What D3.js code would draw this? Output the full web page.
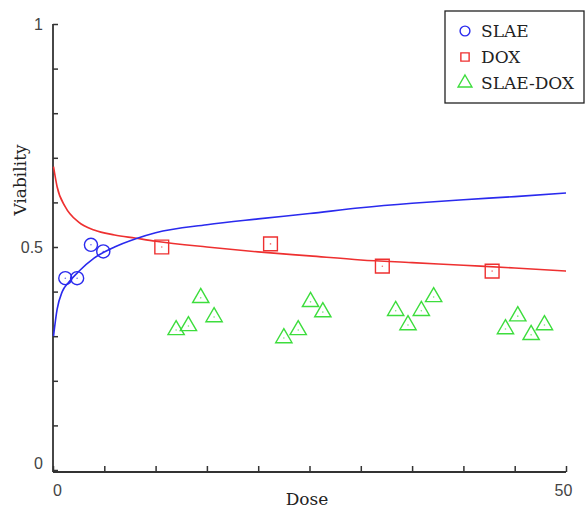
<!DOCTYPE html>
<html>
<head>
<meta charset="utf-8">
<script src="https://cdn.jsdelivr.net/npm/d3@7"></script>
<style>
  body { margin: 0; background: #fff; }
  svg { display: block; }
</style>
</head>
<body>
<svg id="chart" width="587" height="511"></svg>
<script>
// Measured points
const slaeDose = [1.2, 2.35, 3.7, 4.9];
const slaeViab = [0.430, 0.430, 0.505, 0.490];

const doxDose = [10.6, 21.2, 32.1, 42.8];
const doxViab = [0.500, 0.507, 0.457, 0.446];

const comboDose = [12.0, 13.2, 14.4, 15.7, 22.5, 23.9, 25.1, 26.3, 33.4, 34.6, 35.9, 37.1, 44.1, 45.3, 46.6, 47.9];
const comboViab = [0.314, 0.323, 0.386, 0.343, 0.296, 0.314, 0.377, 0.354, 0.357, 0.325, 0.357, 0.388, 0.316, 0.345, 0.303, 0.325];

// Fitted curves
const slaeFitDose = [0.05, 0.4, 0.9, 1.5, 2.5, 4, 6, 8, 10, 15, 20, 25, 30, 35, 40, 45, 50];
const slaeFitViab = [0.30, 0.36, 0.40, 0.42, 0.445, 0.475, 0.50, 0.518, 0.532, 0.55, 0.563, 0.575, 0.588, 0.598, 0.606, 0.613, 0.621];
const doxFitDose = [0.05, 0.4, 1.2, 2.5, 4, 6, 8, 10, 15, 20, 25, 30, 35, 40, 45, 50];
const doxFitViab = [0.68, 0.635, 0.59, 0.556, 0.538, 0.527, 0.52, 0.513, 0.50, 0.489, 0.48, 0.471, 0.465, 0.459, 0.453, 0.446];

const xTicks = d3.range(0, 51, 5);
const yTicks = d3.range(0, 11).map(d => d / 10);
const xLabels = [0, 50];
const yLabels = [0, 0.5, 1];

const legendNames = ['SLAE', 'DOX', 'SLAE-DOX'];

const svg = d3.select('#chart');
const axisColor = '#333';

const x = d3.scaleLinear().domain([0, 50]).range([53, 566]);
const y = d3.scaleLinear().domain([0, 1]).range([470, 24]);

// axes
const xAxis = svg.append('g')
  .attr('transform', `translate(0,${y(0) + 2})`)
  .call(d3.axisBottom(x).tickValues(xTicks).tickSize(-6).tickPadding(13)
    .tickFormat(d => xLabels.includes(d) ? d : ''));

const yAxis = svg.append('g')
  .attr('transform', `translate(${x(0)},0)`)
  .call(d3.axisLeft(y).tickValues(yTicks).tickSize(-5).tickPadding(10)
    .tickFormat(d => yLabels.includes(d) ? d3.format('')(d) : ''));

[xAxis, yAxis].forEach(a => {
  a.select('.domain').attr('stroke', axisColor).attr('stroke-width', 1.8);
  a.selectAll('.tick line').attr('stroke', axisColor).attr('stroke-width', 1.5);
  a.selectAll('.tick text')
    .attr('fill', '#444')
    .style('font-family', '"Liberation Sans", Arial, sans-serif')
    .style('font-size', '16px');
});
// the 0 and 50 labels sit a little inward in the original
xAxis.selectAll('.tick text').attr('dx', d => d === 0 ? 4 : (d === 50 ? -3 : 0));
yAxis.selectAll('.tick text').attr('dy', d => d === 0 ? '-0.1em' : '0.32em');
// domain paths without outer ticks
xAxis.select('.domain').attr('d', `M${x(0)},0H${x(50)}`);
yAxis.select('.domain').attr('d', `M0,${y(0) + 2}V${y(1)}`);

// axis titles
svg.append('text')
  .attr('x', 307).attr('y', 505)
  .attr('text-anchor', 'middle')
  .style('font-family', '"DejaVu Serif", serif')
  .style('font-size', '17px')
  .attr('fill', '#222')
  .text('Dose');

svg.append('text')
  .attr('transform', 'translate(26,180) rotate(-90)')
  .attr('text-anchor', 'middle')
  .style('font-family', '"DejaVu Serif", serif')
  .style('font-size', '17px')
  .attr('fill', '#222')
  .text('Viability');

const blue = '#2a2aee';
const red = '#ee3030';
const green = '#3ddd3d';

// fitted curves
const line = d3.line().x(d => x(d[0])).y(d => y(d[1])).curve(d3.curveMonotoneX);
svg.append('path')
  .datum(d3.zip(doxFitDose, doxFitViab))
  .attr('fill', 'none').attr('stroke', red).attr('stroke-width', 1.6)
  .attr('d', line);
svg.append('path')
  .datum(d3.zip(slaeFitDose, slaeFitViab))
  .attr('fill', 'none').attr('stroke', blue).attr('stroke-width', 1.6)
  .attr('d', line);

const circle = d3.symbol().type(d3.symbolCircle).size(135);
const square = d3.symbol().type(d3.symbolSquare).size(190);
const tri = d3.symbol().type(d3.symbolTriangle).size(115);

function drawMarkers(dose, vals, sym, color) {
  const g = svg.append('g');
  const pts = d3.zip(dose, vals);
  g.selectAll('path')
    .data(pts)
    .enter().append('path')
    .attr('transform', d => `translate(${x(d[0])},${y(d[1])})`)
    .attr('d', sym)
    .attr('fill', 'none')
    .attr('stroke', color)
    .attr('stroke-width', 1.4);
  // tiny centre dots
  g.selectAll('circle')
    .data(pts)
    .enter().append('circle')
    .attr('cx', d => x(d[0])).attr('cy', d => y(d[1]))
    .attr('r', 0.8).attr('fill', color).attr('opacity', 0.7);
  return g;
}

drawMarkers(slaeDose, slaeViab, circle, blue);
drawMarkers(doxDose, doxViab, square, red);
drawMarkers(comboDose, comboViab, tri, green);

// legend
const legend = svg.append('g');
legend.append('rect')
  .attr('x', 445).attr('y', 11)
  .attr('width', 139).attr('height', 92)
  .attr('fill', '#fff')
  .attr('stroke', '#222').attr('stroke-width', 1.3);

const legendSyms = [circle, square, tri];
const legendColors = [blue, red, green];
const legendSize = [0.75, 0.6, 0.85];
legendNames.forEach((name, i) => {
  const cy = 31 + i * 26;
  legend.append('path')
    .attr('transform', `translate(465,${cy}) scale(${legendSize[i]})`)
    .attr('d', legendSyms[i])
    .attr('fill', 'none')
    .attr('stroke', legendColors[i])
    .attr('stroke-width', 1.4 / legendSize[i]);
  legend.append('text')
    .attr('x', 481).attr('y', cy + 6)
    .style('font-family', '"DejaVu Serif", serif')
    .style('font-size', '17px')
    .attr('fill', '#222')
    .text(name);
});
</script>
</body>
</html>
